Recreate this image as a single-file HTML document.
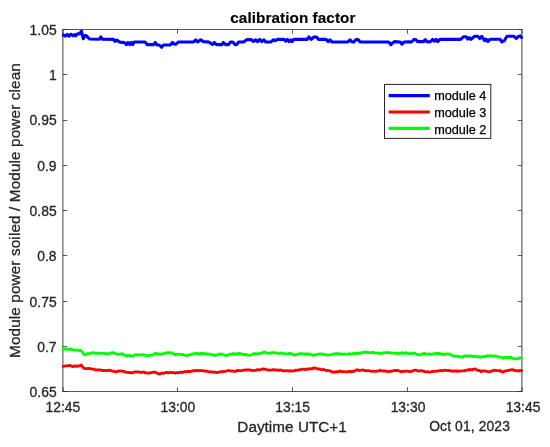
<!DOCTYPE html>
<html lang="en">
<head>
<meta charset="utf-8">
<title>calibration factor</title>
<style>
html,body{margin:0;padding:0;background:#fff;}
body{width:550px;height:447px;overflow:hidden;}
svg{display:block;}
</style>
</head>
<body>
<svg width="550" height="447" viewBox="0 0 550 447">
<rect x="0" y="0" width="550" height="447" fill="#fff"/>
<path d="M62.9,29.1V391.9M521.9,29.1V391.9" fill="none" stroke="#262626" stroke-width="0.88"/>
<path d="M62.5,29.5H522.4M62.5,391.5H522.4" fill="none" stroke="#262626" stroke-width="0.78"/>
<path d="M63.00,391.5v-4.3M63.00,29.5v4.3M177.50,391.5v-4.3M177.50,29.5v4.3M292.50,391.5v-4.3M292.50,29.5v4.3M407.50,391.5v-4.3M407.50,29.5v4.3M522.00,391.5v-4.3M522.00,29.5v4.3M63.0,391.50h4.3M522.0,391.50h-4.3M63.0,346.50h4.3M522.0,346.50h-4.3M63.0,301.50h4.3M522.0,301.50h-4.3M63.0,255.50h4.3M522.0,255.50h-4.3M63.0,210.50h4.3M522.0,210.50h-4.3M63.0,165.50h4.3M522.0,165.50h-4.3M63.0,120.50h4.3M522.0,120.50h-4.3M63.0,74.50h4.3M522.0,74.50h-4.3M63.0,29.50h4.3M522.0,29.50h-4.3" stroke="#262626" stroke-width="0.75" fill="none"/>
<clipPath id="ax"><rect x="62" y="28" width="461" height="365"/></clipPath>
<g fill="none" stroke-width="3.1" stroke-linejoin="round" stroke-linecap="round" clip-path="url(#ax)">
<polyline stroke="#0000ff" points="63.0,35.1 63.6,35.1 65.5,36.2 67.3,34.4 69.1,36.2 70.9,34.2 73.1,35.8 74.5,34.6 75.6,35.8 77.8,33.7 79.6,33.7 81.5,31.2 82.4,35.0 83.3,38.7 84.4,36.5 85.1,35.6 86.5,35.8 88.0,37.6 89.8,39.0 99.3,39.2 100.8,37.0 102.5,39.2 113.5,39.4 115.0,41.4 116.8,40.0 119.0,41.8 121.5,42.4 124.4,42.5 126.5,44.6 128.0,42.5 129.8,44.6 131.3,42.5 132.7,44.6 134.2,42.0 145.0,42.0 147.3,44.6 153.8,44.6 155.4,42.5 157.0,45.0 159.3,45.0 161.5,47.3 163.6,45.0 170.2,45.0 172.4,42.5 174.5,44.2 176.0,44.2 178.3,42.0 193.5,42.0 195.7,39.8 197.5,42.0 200.7,39.8 203.4,41.6 208.8,42.0 212.5,44.6 214.3,42.5 216.5,44.6 221.9,44.6 223.4,42.5 225.6,44.6 228.5,44.6 230.6,42.0 232.8,42.0 235.0,44.6 236.7,44.6 238.7,42.0 243.7,42.0 247.0,39.6 251.4,39.6 253.5,41.6 255.7,39.8 257.5,41.6 259.7,39.4 261.8,41.6 264.0,39.8 265.5,42.0 271.0,42.0 273.2,39.8 275.4,40.7 277.5,39.4 284.0,39.4 285.8,41.1 287.4,39.4 289.0,41.6 291.0,39.8 291.9,41.6 294.0,39.4 307.0,39.4 309.0,37.0 311.2,39.4 314.0,37.0 316.6,37.0 318.4,39.4 326.0,39.4 328.2,41.6 330.0,39.8 332.0,42.0 347.8,42.0 350.0,39.8 352.2,42.0 353.9,42.0 356.0,39.6 358.1,39.6 360.3,42.0 388.6,42.0 391.0,44.6 393.0,42.5 394.7,41.6 400.2,42.0 402.0,44.2 404.0,42.0 409.0,41.8 411.5,42.0 414.2,39.4 416.0,39.8 417.7,41.6 423.5,41.6 425.3,39.6 426.8,41.6 430.0,42.0 432.7,39.4 434.5,41.1 436.2,39.4 437.7,41.6 440.0,39.4 460.6,39.4 463.5,36.8 466.1,36.8 467.8,39.0 469.4,37.7 471.0,39.4 474.4,36.3 477.7,36.3 479.8,38.5 481.8,36.3 484.6,40.7 486.2,39.2 488.0,41.6 490.0,39.2 500.0,39.2 502.0,42.0 504.3,40.7 507.0,36.3 514.0,36.3 516.3,38.5 518.5,36.3 520.4,35.9 521.6,37.6"/>
<polyline stroke="#ff0000" stroke-width="2.8" points="63.0,366.3 64.4,366.2 65.8,365.9 67.2,365.9 68.7,365.6 69.8,365.4 71.0,365.9 73.0,366.6 74.4,366.0 75.8,365.9 77.2,366.4 78.5,365.9 80.0,365.8 81.4,365.0 82.7,366.9 84.0,368.3 85.6,368.6 87.2,368.6 88.8,368.5 90.5,368.6 92.2,369.1 93.8,369.1 95.4,369.9 97.0,369.9 98.7,369.8 100.3,369.8 101.9,370.5 103.6,370.3 104.7,370.5 105.9,370.6 107.0,370.3 108.6,370.7 110.2,370.2 111.8,371.0 113.5,371.1 115.1,371.8 116.7,371.8 118.3,371.0 120.0,371.1 121.7,371.0 123.3,371.4 124.4,371.5 125.5,372.1 127.6,372.4 128.7,372.6 129.8,372.5 132.0,372.8 134.2,372.1 135.3,371.9 136.4,371.8 138.1,371.9 139.7,372.1 140.8,372.3 141.9,372.5 143.0,372.1 144.1,371.9 145.2,372.8 146.3,372.8 147.9,373.2 149.5,372.9 150.9,372.8 152.3,372.2 153.7,372.5 155.0,372.0 156.6,372.9 158.2,373.6 159.3,374.0 160.4,373.9 161.5,373.0 163.1,373.4 164.7,372.9 165.8,372.5 166.9,372.5 168.0,372.7 169.1,372.9 170.2,372.1 171.3,372.6 173.5,372.6 175.6,373.0 176.9,372.5 178.3,372.8 179.6,372.4 181.0,372.1 182.3,372.6 183.7,371.9 184.8,371.5 185.9,371.9 187.0,371.5 188.1,371.4 189.2,371.5 190.3,371.7 191.9,370.9 193.5,370.6 194.6,371.0 195.7,370.3 196.8,370.5 198.4,370.8 200.0,370.5 201.1,370.6 202.3,370.7 203.4,370.8 205.1,371.0 206.7,371.2 207.8,371.5 208.9,371.9 210.0,371.6 211.6,371.8 213.2,372.3 214.3,372.0 215.4,372.2 216.5,372.7 217.7,372.3 219.0,372.1 220.2,371.7 221.5,371.7 222.7,371.8 224.0,371.4 225.4,371.4 226.8,371.1 228.2,370.4 229.5,370.8 230.6,370.8 231.7,371.1 232.8,371.0 234.4,371.4 236.0,371.3 237.1,370.5 238.2,370.4 239.3,370.7 240.9,370.9 242.6,370.2 243.7,370.2 244.9,370.2 246.0,369.9 247.6,369.8 249.2,369.8 250.3,370.0 251.4,370.4 253.5,370.6 254.8,370.3 256.2,370.3 257.6,369.6 259.0,369.9 260.4,369.8 261.8,369.2 263.1,368.9 264.5,369.2 266.7,369.7 268.8,370.1 270.4,370.1 272.0,370.1 273.1,369.6 274.3,369.8 275.4,369.8 276.5,370.3 277.6,370.0 278.7,370.4 279.8,369.9 280.9,370.1 282.0,370.4 283.6,371.0 285.2,370.9 286.3,370.7 287.4,370.7 288.5,371.2 290.0,370.7 291.5,371.0 293.1,371.1 294.6,370.5 296.5,370.2 297.6,370.4 298.7,370.0 299.8,369.9 301.4,369.4 303.0,369.2 304.1,369.2 305.2,369.6 306.3,369.2 307.4,369.0 308.5,369.0 309.6,369.0 310.7,368.7 311.9,369.0 313.0,368.2 314.6,367.8 316.2,368.3 317.3,368.7 318.4,369.1 319.5,368.9 321.1,369.6 322.7,369.6 323.8,369.4 324.9,370.2 326.0,370.4 327.1,370.5 328.2,370.6 329.3,370.6 331.5,371.7 333.6,372.4 334.7,371.8 335.9,372.1 337.0,371.6 338.6,371.8 340.2,371.0 341.6,371.7 343.1,371.6 344.5,371.7 345.6,371.9 346.8,371.9 347.9,371.7 349.0,371.4 350.4,371.8 351.9,371.3 353.3,371.5 355.0,370.7 356.5,369.9 357.8,369.9 359.0,370.5 360.3,370.3 361.6,370.1 362.9,370.0 364.2,370.5 365.3,370.4 366.4,370.9 367.5,370.6 368.6,370.7 370.1,371.0 371.5,371.4 373.0,371.0 374.4,371.4 375.9,371.4 377.3,371.0 378.7,371.1 380.2,370.2 381.6,370.8 382.7,371.3 383.9,370.6 385.0,371.2 386.6,371.2 388.2,371.6 389.3,371.4 390.4,371.3 391.5,371.4 392.6,370.8 394.1,370.5 395.5,370.4 397.0,370.5 398.6,370.6 400.2,371.5 401.3,371.8 402.4,371.1 403.5,371.6 404.8,371.3 406.2,371.2 407.5,371.2 408.8,371.5 410.2,371.6 411.5,371.5 413.2,370.6 414.8,370.2 416.1,370.1 417.3,370.8 418.6,371.0 419.9,370.9 421.2,370.7 422.5,371.0 423.6,371.2 424.7,371.6 425.8,371.8 427.4,371.7 429.0,372.2 430.6,371.9 432.2,371.5 433.3,371.3 434.4,371.3 435.5,371.3 436.6,371.0 437.7,371.1 438.8,370.8 440.4,370.5 442.0,370.7 443.1,370.8 444.2,370.1 445.3,370.4 446.4,370.3 447.5,370.7 448.6,370.5 449.7,370.4 450.9,371.1 452.0,371.0 453.6,370.8 455.2,371.2 456.3,370.7 457.4,371.3 458.5,371.1 459.6,371.0 461.1,371.1 462.5,370.9 464.0,370.8 465.6,370.5 467.2,370.0 468.3,370.2 469.4,369.5 470.5,369.7 471.9,370.0 473.2,369.3 474.6,369.0 476.0,369.2 477.4,370.4 478.7,370.5 480.0,370.7 481.4,371.8 483.0,370.8 484.6,370.9 486.8,371.4 489.0,371.8 490.4,371.7 491.8,370.8 493.1,370.8 494.5,370.1 495.9,370.7 497.2,370.6 498.6,370.9 500.0,370.5 501.6,371.6 503.2,372.2 504.6,371.1 506.0,370.9 507.3,370.7 508.6,370.5 510.0,369.9 511.3,369.8 512.6,369.7 514.0,370.0 515.1,370.6 516.3,370.6 517.4,370.8 518.5,371.1 520.1,370.3 521.6,370.8"/>
<polyline stroke="#00ff00" stroke-width="2.8" points="63.0,349.1 64.2,349.0 65.5,348.9 66.8,349.0 68.0,349.5 69.5,348.8 71.0,349.0 72.1,349.7 73.2,350.0 75.3,350.2 76.7,350.1 78.0,350.1 79.3,350.7 80.7,350.5 82.2,351.8 84.0,354.5 85.6,354.8 87.3,353.7 88.7,353.6 90.0,353.7 91.3,352.9 92.7,352.7 94.3,352.8 96.0,353.4 97.7,353.2 99.3,353.2 100.9,353.4 102.5,353.4 104.2,353.3 105.8,354.0 107.4,353.7 109.0,353.9 110.1,353.5 111.3,352.9 112.4,352.7 114.1,352.8 115.7,353.8 117.3,354.1 119.0,354.4 120.6,354.0 122.2,353.6 123.8,354.9 125.5,355.3 126.6,356.0 127.7,355.4 128.8,355.4 130.4,355.7 132.0,356.3 133.7,355.7 135.3,354.6 136.5,354.7 137.8,355.0 139.0,355.1 140.3,354.7 141.7,354.9 143.0,354.8 144.4,355.0 145.9,355.2 147.3,355.8 149.5,355.3 151.6,355.1 152.9,354.9 154.1,354.2 155.4,353.2 156.6,353.5 157.8,354.2 159.1,353.9 160.4,354.2 162.1,354.2 163.7,353.8 164.8,353.1 165.9,353.4 167.0,352.7 168.4,352.7 169.9,353.0 171.3,352.6 173.5,353.7 175.6,354.8 177.1,354.2 178.5,354.2 180.0,354.5 181.5,354.7 182.8,354.4 184.2,355.1 185.6,355.3 187.0,355.5 188.3,354.8 189.5,354.9 190.8,354.6 192.1,354.1 193.3,354.0 194.6,353.5 195.7,353.5 196.8,353.9 197.9,353.3 199.0,353.9 200.1,354.0 201.2,353.1 202.3,353.8 203.4,353.2 205.1,353.9 206.7,354.0 207.8,353.8 208.9,354.2 210.0,354.2 211.6,354.8 213.2,354.7 214.3,355.1 215.4,355.4 216.5,355.1 217.9,354.7 219.3,354.1 220.7,354.2 222.0,354.0 224.2,355.1 226.3,355.6 227.9,355.0 229.5,354.2 230.6,354.3 231.7,354.1 232.8,353.5 234.1,354.2 235.4,354.0 236.7,353.7 238.0,354.3 239.2,353.4 240.5,353.6 241.8,354.2 243.2,354.3 244.6,354.5 246.0,354.7 248.2,355.2 250.3,355.4 252.5,354.2 254.6,353.5 255.7,353.9 256.9,354.0 258.0,353.7 259.6,353.7 261.2,353.2 262.9,352.5 264.5,351.9 266.1,353.0 267.7,353.1 269.0,353.2 270.2,352.8 271.5,353.0 272.8,352.7 274.1,352.7 275.4,352.8 276.5,353.0 277.6,353.3 278.7,353.1 279.8,353.6 280.9,352.9 282.0,353.2 284.2,353.6 286.3,353.9 288.0,353.7 289.6,353.4 290.8,353.5 292.0,354.1 293.2,354.6 294.4,355.1 295.5,355.0 296.6,354.7 297.7,354.2 298.8,353.7 299.9,353.8 301.0,353.5 302.4,353.9 303.9,354.0 305.3,354.0 306.7,353.9 308.2,354.4 309.6,353.9 311.0,354.7 312.3,354.9 313.6,355.3 315.0,354.9 316.4,354.7 317.7,354.2 319.1,354.1 320.5,353.9 321.6,354.1 322.8,353.9 323.9,354.7 325.0,354.5 326.4,354.8 327.9,355.1 329.3,354.8 330.9,354.9 332.5,354.3 333.6,354.0 334.7,353.9 335.8,353.7 337.3,353.5 338.7,354.0 340.2,353.9 341.6,354.1 343.1,354.2 344.5,354.1 345.6,354.1 346.8,354.4 347.9,354.3 349.0,353.6 350.4,354.1 351.9,353.9 353.3,353.5 354.9,353.5 356.5,353.5 357.6,353.1 358.7,353.4 359.8,353.5 361.1,352.7 362.5,352.7 363.9,352.4 365.3,351.8 366.6,352.5 367.9,352.4 369.2,352.6 370.5,352.6 371.7,352.6 373.0,352.3 374.4,352.9 375.9,353.2 377.3,353.2 378.7,353.0 380.2,353.5 381.6,353.3 383.1,352.8 384.5,352.6 386.0,352.7 387.5,352.6 388.9,352.5 390.4,352.8 391.8,353.1 393.3,353.1 394.7,353.2 396.1,353.4 397.6,353.1 399.0,353.3 400.1,353.4 401.2,352.9 402.3,352.7 403.4,353.3 404.5,353.1 405.6,352.7 407.5,353.3 409.4,353.7 410.8,353.7 412.1,353.5 413.5,353.0 414.8,353.2 417.0,354.4 419.2,354.8 420.5,354.6 421.9,354.0 423.2,353.7 424.6,353.5 426.2,353.9 427.9,354.1 429.0,353.9 430.1,354.1 431.2,354.4 432.3,354.3 433.4,353.6 434.5,353.6 436.1,353.5 437.7,353.3 438.8,353.8 439.9,353.4 441.0,354.1 442.1,354.2 443.2,354.0 444.3,354.8 445.6,354.1 447.0,354.0 448.4,354.1 449.7,353.9 451.8,355.4 454.0,356.2 455.3,356.0 456.5,356.0 457.8,356.6 459.1,356.4 460.4,357.0 461.7,356.8 462.8,357.0 463.9,356.2 465.0,356.1 466.1,355.9 467.2,356.3 468.3,356.0 469.9,355.9 471.5,356.0 472.6,356.4 473.7,356.7 474.8,356.3 476.1,356.2 477.5,356.9 478.9,356.9 480.3,357.4 481.6,356.7 483.0,356.6 484.4,356.7 485.7,356.5 487.1,355.8 488.5,356.0 489.9,355.6 491.2,355.7 492.3,356.1 493.4,356.3 494.5,355.8 496.1,356.0 497.7,356.4 499.1,357.2 500.5,357.1 501.9,357.5 503.2,358.3 504.3,357.5 505.4,357.6 506.5,357.4 508.1,357.5 509.7,357.4 510.8,357.2 511.9,358.1 513.0,358.3 514.6,358.9 516.3,358.9 517.6,358.9 519.0,357.9 520.3,358.0 521.6,358.1"/>
</g>
<g font-family="'Liberation Sans', Arial, sans-serif" fill="#262626" stroke="#262626" stroke-width="0.3">
<text x="292.9" y="22.9" font-size="15.25" font-weight="bold" letter-spacing="0.08" text-anchor="middle" fill="#000" stroke="#000" stroke-width="0.15">calibration factor</text>
<g font-size="13.87" text-anchor="end">
<text x="56.6" y="397.2">0.65</text>
<text x="56.6" y="351.9">0.7</text>
<text x="56.6" y="306.6">0.75</text>
<text x="56.6" y="261.2">0.8</text>
<text x="56.6" y="215.9">0.85</text>
<text x="56.6" y="170.6">0.9</text>
<text x="56.6" y="125.2">0.95</text>
<text x="56.6" y="79.9">1</text>
<text x="56.6" y="34.6">1.05</text>
</g>
<g font-size="13.87" text-anchor="middle">
<text x="62.9" y="411.7">12:45</text>
<text x="177.9" y="411.7">13:00</text>
<text x="292.6" y="411.7">13:15</text>
<text x="408.0" y="411.7">13:30</text>
<text x="523.0" y="411.7">13:45</text>
</g>
<text x="510" y="430.5" font-size="13.87" letter-spacing="0.12" text-anchor="end">Oct 01, 2023</text>
<text x="292.1" y="431.9" font-size="15.25" letter-spacing="0.05" text-anchor="middle">Daytime UTC+1</text>
<text transform="translate(20.2,210.5) rotate(-90)" font-size="15.25" letter-spacing="0.145" text-anchor="middle">Module power soiled / Module power clean</text>
</g>
<rect x="384.5" y="84.4" width="106.3" height="54" fill="#fff" stroke="#262626" stroke-width="1"/>
<g stroke-width="3.1" fill="none"><path d="M388.7,95.6H429.8" stroke="#0000ff"/><path d="M388.7,112H429.8" stroke="#ff0000"/><path d="M388.7,128.4H429.8" stroke="#00ff00"/></g>
<g font-family="'Liberation Sans', Arial, sans-serif" font-size="12.68" fill="#000" stroke="#000" stroke-width="0.25">
<text x="434.2" y="99.9">module 4</text>
<text x="434.2" y="116.7">module 3</text>
<text x="434.2" y="133.5">module 2</text>
</g>
</svg>
</body>
</html>
